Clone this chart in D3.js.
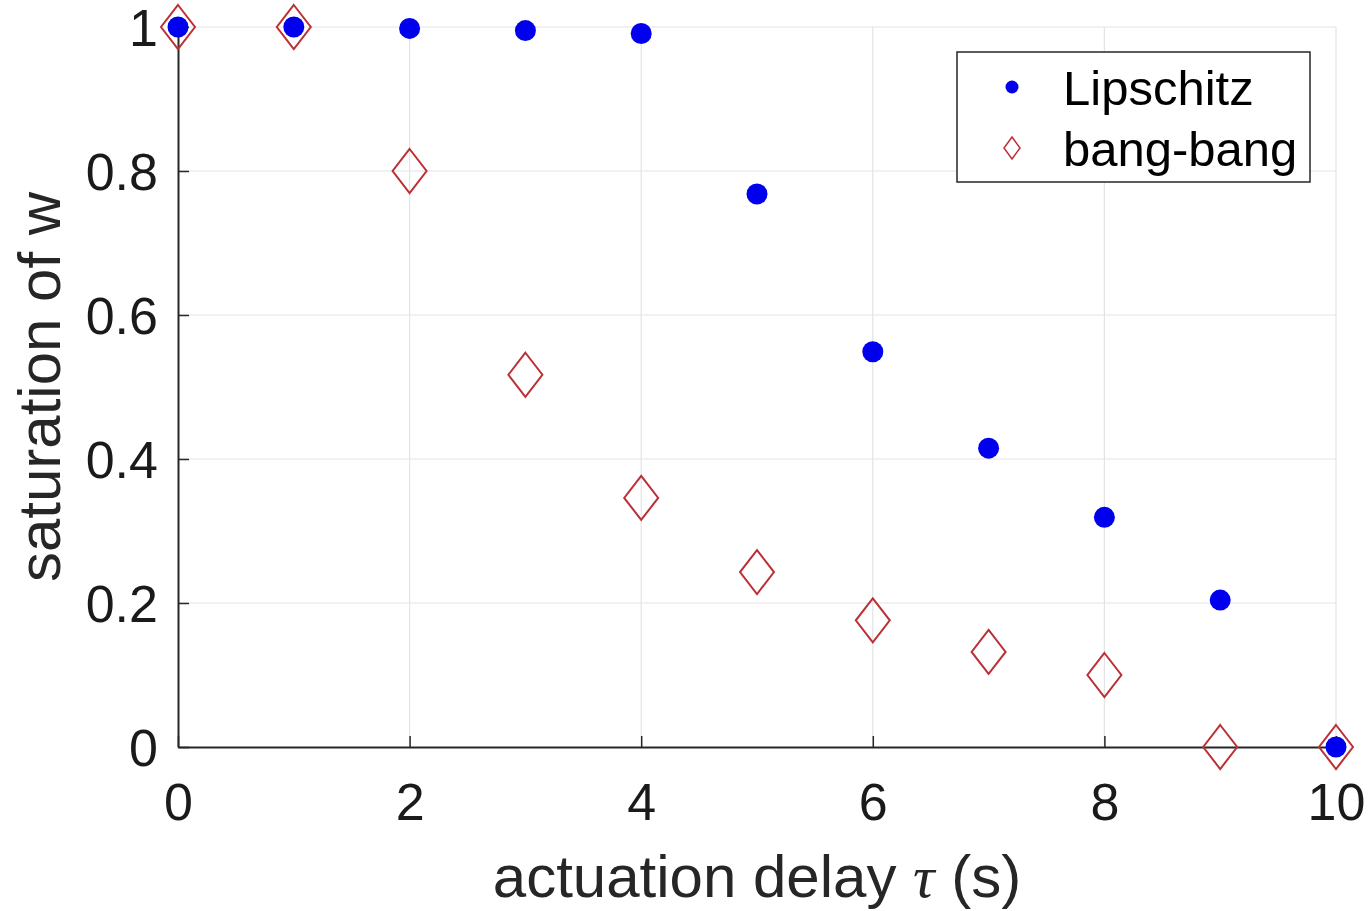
<!DOCTYPE html>
<html>
<head>
<meta charset="utf-8">
<script src="https://cdn.jsdelivr.net/npm/d3@7"></script>
<style>
html,body{margin:0;padding:0;background:#fff;}
svg{display:block;font-family:"Liberation Sans",Arial,Helvetica,sans-serif;}
</style>
</head>
<body>
<svg id="chart" width="1368" height="911"></svg>
<script>
const delays = [0,1,2,3,4,5,6,7,8,9,10];
const lipschitz = [1,1,0.998,0.995,0.991,0.768,0.549,0.415,0.319,0.204,0];
const bangbang = [1,1,0.8,0.517,0.346,0.243,0.176,0.132,0.1,0,0];
const xTicks = [0,2,4,6,8,10];
const yTicks = [0,0.2,0.4,0.6,0.8,1];
const yTickLabels = ["0","0.2","0.4","0.6","0.8","1"];
const seriesNames = ["Lipschitz","bang-bang"];
const xLabel = "actuation delay ";
const yLabel = "saturation of w";

(function(){
const svg = d3.select("#chart");
const pL = 178, pR = 1336, pT = 27, pB = 747;
const x = d3.scaleLinear().domain([0,10]).range([pL,pR]);
const y = d3.scaleLinear().domain([0,1]).range([pB,pT]);

const blue = "#0000ee";
const red = "#bb3035";
const axisCol = "#262626";

// grid
const g = svg.append("g");
g.selectAll("line.vg").data(xTicks.filter(d=>d>0)).enter().append("line")
  .attr("x1",d=>x(d)).attr("x2",d=>x(d)).attr("y1",y(0)).attr("y2",y(1))
  .attr("stroke","#e3e3e3").attr("stroke-width",1.2);
g.selectAll("line.hg").data(yTicks.filter(d=>d>0)).enter().append("line")
  .attr("x1",x(0)).attr("x2",x(10)).attr("y1",d=>y(d)).attr("y2",d=>y(d))
  .attr("stroke","#e3e3e3").attr("stroke-width",1.2);

// axes
const xAxis = d3.axisBottom(x).tickValues(xTicks).tickSizeInner(-11).tickSizeOuter(0).tickPadding(36);
const yAxis = d3.axisLeft(y).tickValues(yTicks).tickFormat((d,i)=>yTickLabels[i]).tickSizeInner(-11).tickSizeOuter(0).tickPadding(20);
const gx = svg.append("g").attr("transform",`translate(0,${pB})`).call(xAxis);
const gy = svg.append("g").attr("transform",`translate(${pL},0)`).call(yAxis);
[gx,gy].forEach(a=>{
  a.select(".domain").attr("stroke",axisCol).attr("stroke-width",2);
  a.selectAll(".tick line").attr("stroke",axisCol).attr("stroke-width",1.5);
  a.selectAll(".tick text").attr("fill","#1a1a1a").attr("font-size",52).attr("font-family","Liberation Sans, Arial, sans-serif");
});
gy.selectAll(".tick text").attr("dy","0.36em");

// axis labels
svg.append("text").attr("x",(pL+pR)/2).attr("y",897).attr("text-anchor","middle")
  .attr("font-size",60).attr("fill","#262626")
  .call(t=>{ t.append("tspan").text(xLabel);
             t.append("tspan").attr("font-family","Liberation Serif, Times New Roman, serif").attr("font-style","italic").text("τ");
             t.append("tspan").text(" (s)"); });
svg.append("text").attr("transform",`translate(60,${(pT+pB)/2}) rotate(-90)`)
  .attr("text-anchor","middle").attr("font-size",60).attr("fill","#262626").text(yLabel);

// markers
const diamond = (cx,cy,hw,hh)=>`M${cx},${cy-hh}L${cx+hw},${cy}L${cx},${cy+hh}L${cx-hw},${cy}Z`;
svg.append("g").selectAll("path").data(delays).enter().append("path")
  .attr("d",(d,i)=>diamond(x(d),y(bangbang[i]),17,22))
  .attr("fill","none").attr("stroke",red).attr("stroke-width",2);
svg.append("g").selectAll("circle").data(delays).enter().append("circle")
  .attr("cx",d=>x(d)).attr("cy",(d,i)=>y(lipschitz[i])).attr("r",10.5)
  .attr("fill",blue);

// legend
const lg = svg.append("g");
lg.append("rect").attr("x",957).attr("y",52).attr("width",353).attr("height",130)
  .attr("fill","#fff").attr("stroke",axisCol).attr("stroke-width",1.5);
lg.append("circle").attr("cx",1012).attr("cy",87).attr("r",6.5).attr("fill",blue);
lg.append("path").attr("d",diamond(1012,148,8,11)).attr("fill","none").attr("stroke",red).attr("stroke-width",1.5);
lg.selectAll("text").data(seriesNames).enter().append("text")
  .attr("x",1063).attr("y",(d,i)=>105+i*61).attr("font-size",49).attr("fill","#000").text(d=>d);
})();
</script>
</body>
</html>
